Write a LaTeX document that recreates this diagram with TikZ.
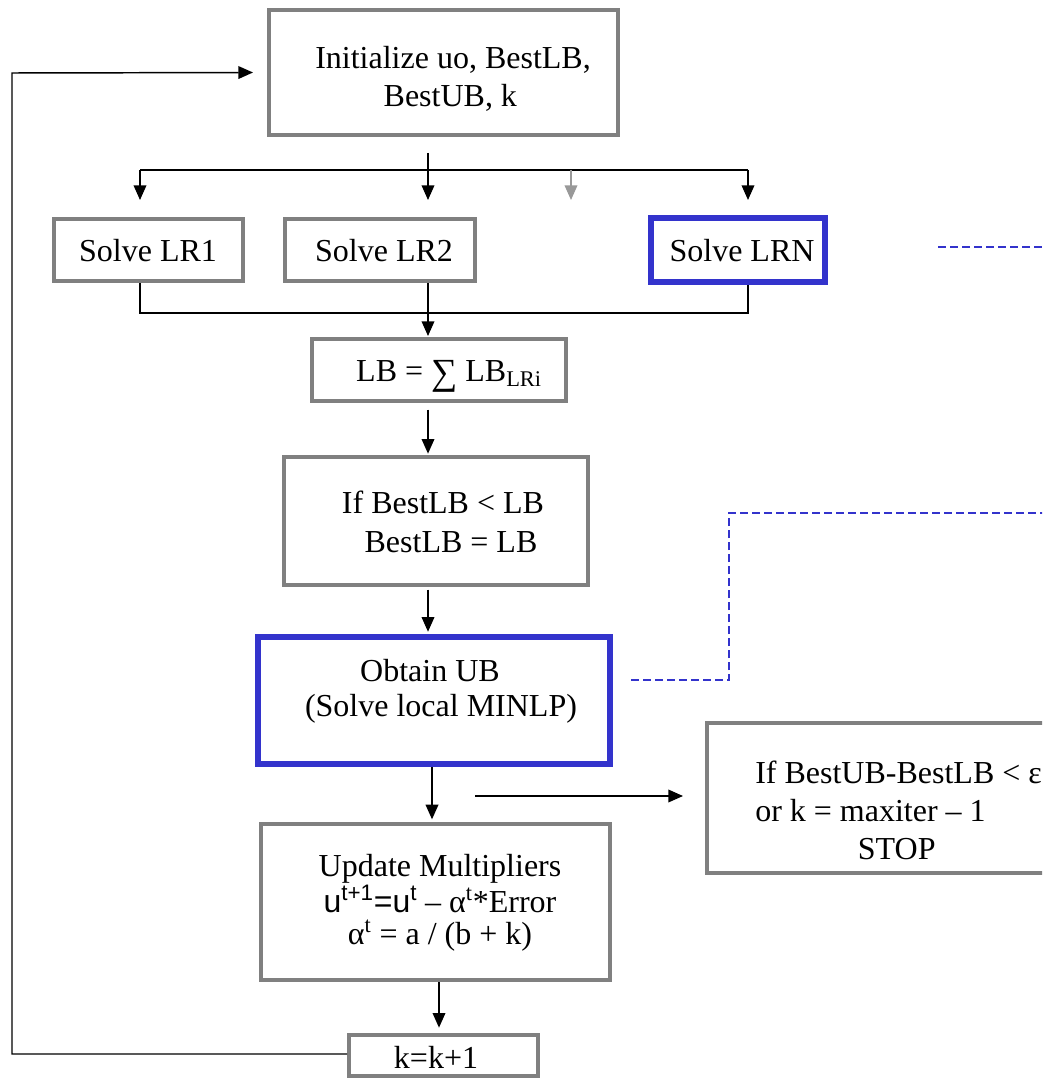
\documentclass[tikz,border=0pt]{standalone}
\usepackage{fontspec}
\usepackage{graphicx}
\setmainfont{Liberation Serif}
\newfontfamily\arialfont{Liberation Sans}
\usetikzlibrary{arrows.meta,fit}
\definecolor{boxgray}{HTML}{808080}
\definecolor{boxblue}{HTML}{3333CC}
\definecolor{arrgray}{HTML}{999999}
\begin{document}
\begin{tikzpicture}[x=0.75pt,y=-0.75pt,
  gbox/.style={draw=boxgray, line width=3pt, inner sep=0pt},
  bbox/.style={draw=boxblue, line width=4.9pt, inner sep=0pt},
  txt/.style={font=\fontsize{24}{28.5}\selectfont, align=center, inner sep=0pt},
  arr/.style={draw=black, line width=1.1pt, -{Triangle[length=11pt,width=9.5pt]}},
  garr/.style={draw=arrgray, line width=1.1pt, -{Triangle[length=11pt,width=9.5pt]}},
  ln/.style={draw=black, line width=1.1pt},
  dsh/.style={draw=boxblue, line width=1.1pt, dash pattern=on 6pt off 3pt}]
\useasboundingbox (0,0) rectangle (1042,1084);
\clip (0,0) rectangle (1042,1084);
\fill[white] (0,0) rectangle (1042,1084);

% boxes
\node[gbox, fit={(269,10) (618,135)}] (init) {};
\node[gbox, fit={(54,219) (243,281)}] (lr1) {};
\node[gbox, fit={(285,219) (475,281)}] (lr2) {};
\node[bbox, fit={(651,218) (825,282)}] (lrn) {};
\node[gbox, fit={(312,339) (566,401)}] (lb) {};
\node[gbox, fit={(284,457) (588,585)}] (ifb) {};
\node[bbox, fit={(258,637) (610,764)}] (ub) {};
\node[gbox, fit={(707,723) (1100,873)}] (stop) {};
\node[gbox, fit={(261,824) (610,980)}] (upd) {};
\node[gbox, fit={(349,1035) (538,1076)}] (kk) {};

% texts
\node[txt] (tinit) at (453,79) {Initialize uo, BestLB,\\BestUB, k\hspace*{4pt}};
\node[txt] (tlr1) at (148,251) {Solve LR1};
\node[txt] (tlr2) at (384,251) {Solve LR2};
\node[txt] (tlrn) at (742,251) {Solve LRN};
\node[txt] (tlb) at (449,376) {LB = \raisebox{-2pt}{\scalebox{1.15}{∑}} LB\textsubscript{LRi}};
\node[txt, font=\fontsize{24}{29.3}\selectfont] (tif) at (443,522) {If BestLB {<} LB\\\hspace*{12pt}BestLB = LB};
\node[txt, font=\fontsize{24}{26.2}\selectfont] (tub) at (441,691) {Obtain UB\hspace*{16.5pt}\\(Solve local MINLP)};
\node[txt, align=left, anchor=west] (tstop) at (755,810)
  {If BestUB-BestLB {<} ε\\or k = maxiter – 1\\\hspace*{77pt}STOP};
\node[txt, font=\fontsize{24}{24.5}\selectfont] (tupd) at (440,903)
  {Update Multipliers\\{\arialfont u\textsuperscript{t+1}=u\textsuperscript{t}} – α\textsuperscript{t}*Error\\α\textsuperscript{t} = a / (b + k)};
\node[txt] (tk) at (436,1057) {k=k+1};

% coordinates
\coordinate (s0) at (428,153);
\coordinate (bl) at (140,170);
\coordinate (bm) at (428,170);
\coordinate (bg) at (571,170);
\coordinate (br) at (748,170);
\coordinate (d1) at (140,200);
\coordinate (d2) at (428,200);
\coordinate (dg) at (571,200);
\coordinate (d3) at (748,200);
\coordinate (j1) at (140,313);
\coordinate (j2) at (428,313);
\coordinate (j3) at (748,313);
\coordinate (lbin) at (428,336);
\coordinate (xa) at (432,0);
\coordinate (xb) at (439,0);
\coordinate (loopB) at (12,1054);
\coordinate (loopT) at (12,73);
\coordinate (hstart) at (475,796);
\coordinate (hend) at (683,796);

% top fan-out
\draw[ln] (s0) -- (bm);
\draw[ln] (bl) -- (br);
\draw[arr] (bl) -- (d1);
\draw[arr] (bm) -- (d2);
\draw[arr] (br) -- (d3);
\draw[garr] (bg) -- (dg);

% fan-in
\draw[ln] (lr1.south -| j1) -- (j1) -- (j3) -- (lrn.south -| j3);
\draw[arr] (lr2.south -| j2) -- (lbin);

% chain
\draw[arr] ([yshift=-5pt]lb.south -| j2) -- ([yshift=1pt]ifb.north -| j2);
\draw[arr] ([yshift=-2pt]ifb.south -| j2) -- ([yshift=1.5pt]ub.north -| j2);
\draw[arr] (ub.south -| xa) -- ([yshift=2pt]upd.north -| xa);
\draw[arr] (upd.south -| xb) -- ([yshift=4pt]kk.north -| xb);
\draw[arr] (hstart) -- (hend);

% loop back
\draw[arr] (kk.west |- loopB) -- (loopB) -- (loopT) -- ([xshift=-10.5pt]init.west);

% dashed links
\coordinate (dA) at (938,247);
\coordinate (dAe) at (1050,247);
\coordinate (dB0) at (631,680);
\coordinate (dB1) at (729,680);
\coordinate (dB2) at (729,513);
\coordinate (dBe) at (1050,513);
\draw[dsh] (dA) -- (dAe);
\draw[dsh] (dB0) -- (dB1) -- (dB2) -- (dBe);
\end{tikzpicture}
\end{document}
